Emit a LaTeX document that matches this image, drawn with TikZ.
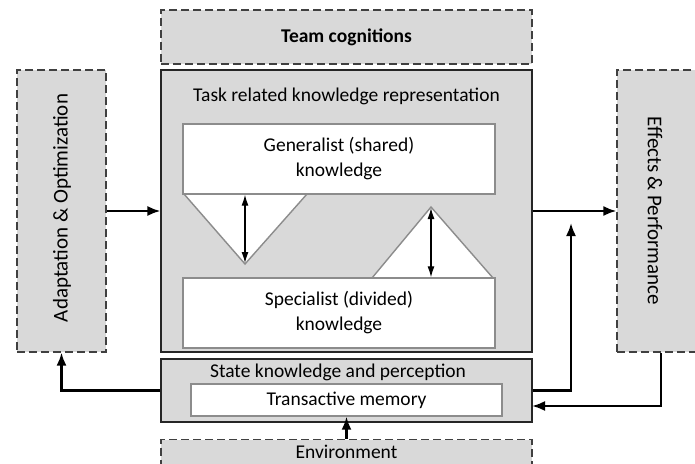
\documentclass[tikz,border=0pt]{standalone}
\usepackage{fontspec}
\setmainfont{Carlito}
\usetikzlibrary{arrows.meta}
\definecolor{boxgray}{RGB}{217,217,217}
\tikzset{
	dashbox/.style={draw=black!75, fill=boxgray, line width=1.2pt, dash pattern=on 8pt off 4pt, inner sep=0pt},
	mainbox/.style={draw=black!85, fill=boxgray, line width=1.1pt, inner sep=0pt},
	whitebox/.style={draw=black!45, fill=white, line width=1.4pt, inner sep=0pt, align=center},
	flow/.style={-{Latex[length=13pt,width=10pt]}, line width=2.2pt},
	dbl/.style={{Latex[length=11pt,width=7pt]}-{Latex[length=11pt,width=7pt]}, line width=1.2pt},
}
\begin{document}
\begin{tikzpicture}[x=1pt, y=-1pt, font=\fontsize{19.5}{25}\selectfont]
		\useasboundingbox (0,0) rectangle (695,463);
		%outer blocks
		\node[dashbox, minimum width=371pt, minimum height=54pt] (team) at (346.5,37) {\textbf{Team cognitions}};
		\node[dashbox, minimum width=89pt, minimum height=282pt] (adapt) at (61.5,211) {};
		\node[dashbox, minimum width=88pt, minimum height=282pt] (effects) at (661,211) {};
		\node[rotate=90, font=\fontsize{21}{25}\selectfont] (adaptlbl) at (62,208) {Adaptation \& Optimization};
		\node[rotate=-90, font=\fontsize{21}{25}\selectfont] (effectslbl) at (655,211) {Effects\,\& Performance};
		%task knowledge
		\node[mainbox, minimum width=371pt, minimum height=282pt] (main) at (346.5,211) {};
		\node (mainlbl) at (346.5,96) {Task related knowledge representation};
		\draw[draw=black!45, fill=white, line width=1.4pt] (184,194) -- (245,264) -- (307,194);
		\draw[draw=black!45, fill=white, line width=1.4pt] (372,278) -- (431,207) -- (493,278);
		\node[whitebox, minimum width=312pt, minimum height=70pt] (gen) at (339,159) {Generalist (shared)\\knowledge};
		\node[whitebox, minimum width=312pt, minimum height=70pt] (spec) at (339,313) {Specialist (divided)\\knowledge};
		\coordinate (downtip) at (245,263);
		\coordinate (uptip) at (431,208);
		\draw[dbl] (gen.south -| downtip) -- (downtip);
		\draw[dbl] (uptip) -- (spec.north -| uptip);
		%state knowledge
		\node[mainbox, minimum width=371pt, minimum height=63pt] (state) at (346.5,390.5) {};
		\node (statelbl) at (338,372) {State knowledge and perception};
		\node[whitebox, minimum width=311pt, minimum height=32pt] (trans) at (346.5,400) {Transactive memory};
		\node[dashbox, minimum width=371pt, minimum height=42pt, anchor=north] (env) at (346.5,439) {};
		\node (envlbl) at (346.5,452) {Environment};
		%connectors
		\coordinate (fbtip) at (571,223);
		\coordinate (ret) at (532,406);
		\draw[flow] (adapt) -- (main);
		\draw[flow] (main) -- (effects);
		\draw[flow] (state.east) -| (fbtip);
		\draw[flow] (effects.south) |- (ret);
		\draw[flow] (state.west) -| (adapt.south);
		\draw[flow] (env.north) -- (trans.south);
\end{tikzpicture}
\end{document}
